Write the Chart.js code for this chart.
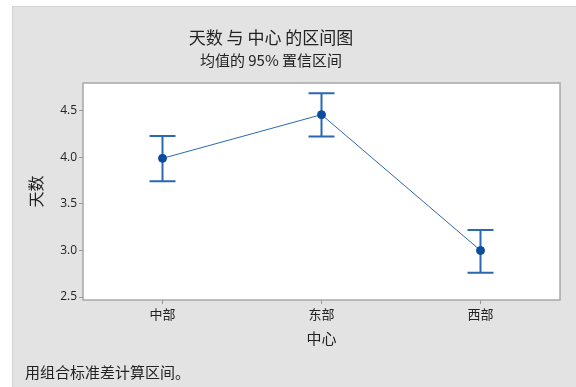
<!DOCTYPE html>
<html>
<head>
<meta charset="utf-8">
<script src="https://cdn.jsdelivr.net/npm/chart.js@4.4.1/dist/chart.umd.min.js"></script>
<style>
  body { margin: 0; background: #fff; font-family: "Noto Sans CJK SC", sans-serif; }
  #panel { position: absolute; left: 12px; top: 6px; width: 564px; height: 381px;
           background: #e3e3e3; border-top: 1px solid #d2d2d2; border-left: 1px solid #d2d2d2; box-sizing: border-box; }
  #wrap { position: absolute; left: 0; top: 0; width: 576px; height: 387px; }
  .txt { position: absolute; color: #222; white-space: nowrap; line-height: 1; }
  #titulo { left: 0; width: 542px; text-align: center; top: 28px; font-size: 17px; }
  #subtitulo { left: 0; width: 542px; text-align: center; top: 52px; font-size: 15px; }
  #nota { left: 25px; top: 364px; font-size: 15px; }
</style>
</head>
<body>
<div id="panel"></div>
<div id="wrap"><canvas id="myChart" width="576" height="387"></canvas></div>
<div class="txt" id="titulo">天数 与 中心 的区间图</div>
<div class="txt" id="subtitulo">均值的 95% 置信区间</div>
<div class="txt" id="nota">用组合标准差计算区间。</div>
<script>
let categorias = ["中部", "东部", "西部"];
let medias = [3.99, 4.46, 3.0];
let limiteInferior = [3.745, 4.224, 2.761];
let limiteSuperior = [4.231, 4.69, 3.22];
let ticksY = [2.5, 3.0, 3.5, 4.0, 4.5];

let azul = "#2a68b2";
let azulPunto = "#0b4c9c";

// fondo blanco y marco del area de datos
const marcoArea = {
    id: "marcoArea",
    beforeDraw(chart){
        const {ctx, chartArea: a} = chart;
        ctx.save();
        ctx.fillStyle = "#fff";
        ctx.fillRect(a.left, a.top, a.right - a.left, a.bottom - a.top);
        ctx.strokeStyle = "#a8a8a8";
        ctx.lineWidth = 1.5;
        ctx.strokeRect(a.left, a.top, a.right - a.left, a.bottom - a.top);
        ctx.restore();
    }
};

// barras de intervalo con sus topes
const barrasIntervalo = {
    id: "barrasIntervalo",
    beforeDatasetsDraw(chart){
        const ctx = chart.ctx;
        const x = chart.scales.x;
        const y = chart.scales.y;
        ctx.save();
        ctx.strokeStyle = azul;
        ctx.lineWidth = 2;
        for(let i = 0; i < categorias.length; i++){
            let px = x.getPixelForValue(i);
            let yAlto = y.getPixelForValue(limiteSuperior[i]);
            let yBajo = y.getPixelForValue(limiteInferior[i]);
            ctx.beginPath();
            ctx.moveTo(px, yAlto);
            ctx.lineTo(px, yBajo);
            ctx.moveTo(px - 13, yAlto);
            ctx.lineTo(px + 13, yAlto);
            ctx.moveTo(px - 13, yBajo);
            ctx.lineTo(px + 13, yBajo);
            ctx.stroke();
        }
        ctx.restore();
    }
};

const conf = {
    type: "line",
    data: {
        labels: categorias,
        datasets: [{
            data: medias,
            borderColor: azul,
            borderWidth: 1,
            pointRadius: 4,
            pointBackgroundColor: azulPunto,
            pointBorderColor: azulPunto,
            tension: 0
        }]
    },
    options: {
        responsive: false,
        animation: false,
        events: [],
        layout: { padding: { left: 12, top: 83, right: 16, bottom: 40 } },
        plugins: { legend: { display: false }, tooltip: { enabled: false } },
        scales: {
            x: {
                offset: true,
                grid: { offset: false, drawOnChartArea: false, tickLength: 4, color: "#9a9a9a" },
                border: { display: false },
                ticks: { color: "#222", padding: 2, font: { family: "Noto Sans CJK SC", size: 13 } },
                title: { display: true, text: "中心", color: "#222", padding: { top: 4, bottom: 0 },
                         font: { family: "Noto Sans CJK SC", size: 15 } },
                afterFit(s){ s.height = 47; }
            },
            y: {
                min: 2.468,
                max: 4.8,
                grid: { drawOnChartArea: false, tickLength: 4, color: "#9a9a9a" },
                border: { display: false },
                afterBuildTicks(s){ s.ticks = ticksY.map(v => ({ value: v })); },
                ticks: { color: "#222", padding: 2, font: { family: "Open Sans", size: 12 },
                         callback: v => v.toFixed(1) },
                title: { display: true, text: "天数", color: "#222", padding: { top: 14, bottom: 0 },
                         font: { family: "Noto Sans CJK SC", size: 16 } },
                afterFit(s){ s.width = 71; }
            }
        }
    },
    plugins: [marcoArea, barrasIntervalo]
};

let grafico = new Chart(document.querySelector("#myChart"), conf);
</script>
</body>
</html>
